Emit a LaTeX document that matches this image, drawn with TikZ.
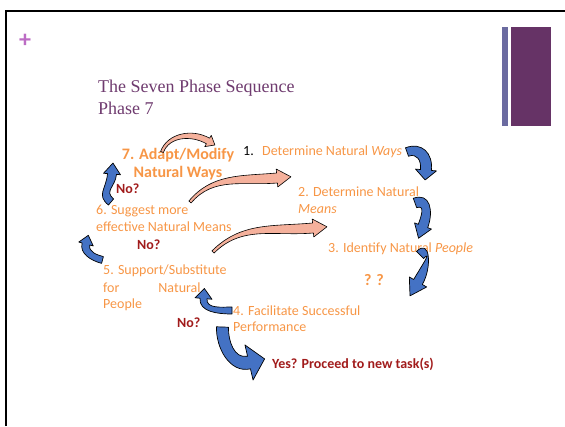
\documentclass[tikz,border=0pt]{standalone}
\usepackage{fontspec}
\setmainfont{Carlito}
\newfontfamily\titlefont{Liberation Serif}
\usepackage{tikz}
\usetikzlibrary{calc}
\definecolor{phaseorange}{HTML}{F79646}
\definecolor{queryred}{HTML}{A11B1B}
\definecolor{titleplum}{HTML}{6F3B6F}
\definecolor{arrowblue}{HTML}{4472C4}
\definecolor{salmon}{HTML}{F5B19C}
\definecolor{plusmauve}{HTML}{BC6CC4}
\definecolor{barslate}{HTML}{6B6BA0}
\definecolor{barplum}{HTML}{663366}

% curved block arrow: style, tail point, tail heading, head base point, head heading,
% tail half width, body half width at head, head half width, head length
\newcommand{\bentarrow}[9]{%
  \filldraw[#1] ($(#2)+({#3+90}:#6)$) to[out={#3},in={#5+180}] ($(#4)+({#5+90}:#7)$)
    -- ($(#4)+({#5+90}:#8)$) -- ($(#4)+({#5}:#9)$) -- ($(#4)+({#5-90}:#8)$)
    -- ($(#4)+({#5-90}:#7)$) to[out={#5+180},in={#3}] ($(#2)+({#3-90}:#6)$) -- cycle;
}

\begin{document}
\begin{tikzpicture}[x=1pt,y=1pt]
    \tikzset{
      phase/.style={anchor=base west,inner sep=0pt,text=phaseorange,align=left,font=\fontsize{14}{17}\selectfont},
      phasebold/.style={phase,align=center,anchor=base,font=\fontsize{16}{18}\selectfont\bfseries},
      query/.style={anchor=base west,inner sep=0pt,text=queryred,font=\fontsize{14}{17}\selectfont\bfseries},
      bluearrow/.style={fill=arrowblue,draw=black,line width=0.7pt,line join=round},
      salmonarrow/.style={fill=salmon,draw=black,line width=0.6pt,line join=round}
    }
    \useasboundingbox (0,0) rectangle (565,426);
    % slide frame and side bars
    \draw[line width=2.2pt] (6.2,0) -- (6.2,415) -- (565,415);
    \fill[barslate] (502,300) rectangle (508,399);
    \fill[barplum] (511,300) rectangle (551,399);
    \node[inner sep=0pt,text=plusmauve,font=\fontsize{24}{24}\selectfont\bfseries] (plus) at (25,385) {+};
    % multi-line nodes sit on the baseline of their last line
    \node[anchor=base west,inner sep=0pt,text=titleplum,align=left,font=\titlefont\fontsize{18}{22}\selectfont] (title) at (98,311.5) {The Seven Phase Sequence\\Phase 7};

    % the phases
    \node[phase,text=black] (one) at (243,270) {1.};
    \node[phase] (ways) at (262,270) {Determine Natural \textit{Ways}};
    \node[phase] (means) at (298,212) {2. Determine Natural\\\textit{Means}};
    \node[phase] (people) at (328,173) {3. Identify Natural \textit{People}};
    \node[phase,font=\fontsize{16}{18}\selectfont\bfseries] (unknown) at (364,140) {? ?};
    \node[phase] (facilitate) at (233,94) {4. Facilitate Successful\\Performance};
    \node[phase] (substitute) at (103,117) {5. Support/Substitute\\for\hspace{39pt}Natural\\People};
    \node[phase] (suggest) at (96,194) {6. Suggest more\\effective Natural Means};
    \node[phasebold] (adapt) at (178,248) {7. Adapt/Modify\\Natural Ways};
    \node[query] (noadapt) at (116,232) {No?};
    \node[query] (nosuggest) at (137,176) {No?};
    \node[query] (nosupport) at (177,98) {No?};
    \node[query] (proceed) at (272,58) {Yes? Proceed to new task(s)};

    % salmon arcs back into the sequence
    \bentarrow{salmonarrow}{162,274}{70}{208,285}{-30}{1.5}{3.2}{6.5}{8}
    \bentarrow{salmonarrow}{190,224}{50}{277,248}{5}{1.5}{5}{9}{14}
    \bentarrow{salmonarrow}{213,174}{45}{313,198}{5}{1.5}{5}{9}{14}
    % blue turns between phases
    \bentarrow{bluearrow,looseness=1.3}{407,274}{20}{426,256}{-95}{4.5}{5.5}{10.5}{10}
    \bentarrow{bluearrow,looseness=1.4}{415,223}{20}{423,200}{-110}{5}{5}{9}{13}
    \bentarrow{bluearrow,looseness=1.5}{420,171}{45}{418,144}{-120}{5}{5}{10}{16}
    \bentarrow{bluearrow}{232,115.5}{180}{203.5,127.5}{85}{3.5}{3.5}{8.5}{10}
    \bentarrow{bluearrow}{222.5,99}{-92}{249,63.5}{13}{6}{6.5}{18}{16}
    \bentarrow{bluearrow}{102.5,166}{165}{86,182}{75}{3.5}{4}{7.5}{9}
    \bentarrow{bluearrow,looseness=1.3}{111,224}{140}{112,252}{85}{4}{4.5}{8.5}{11}
  \end{tikzpicture}
\end{document}
